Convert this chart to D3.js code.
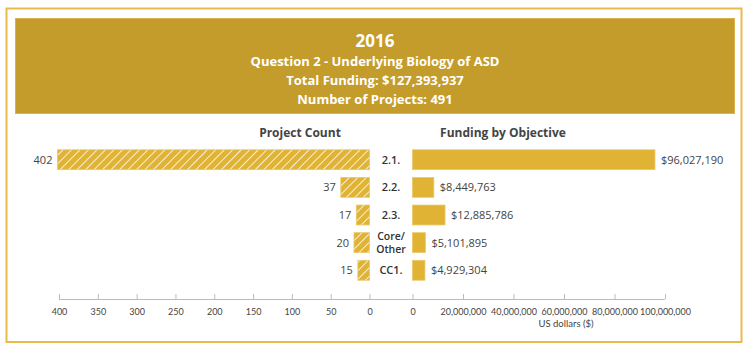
<!DOCTYPE html>
<html>
<head>
<meta charset="utf-8">
<script src="https://cdn.jsdelivr.net/npm/d3@7"></script>
<style>
  body { margin: 0; background: #fff; }
  svg { display: block; font-family: "Open Sans", "Noto Sans", sans-serif; }
</style>
</head>
<body>
<svg width="750" height="351"></svg>
<script>
const categories = ["2.1.", "2.2.", "2.3.", "Core/\nOther", "CC1."];
const projectCounts = [402, 37, 17, 20, 15];
const funding = [96027190, 8449763, 12885786, 5101895, 4929304];
const countTicks = [400, 350, 300, 250, 200, 150, 100, 50, 0];
const fundTicks = [0, 20000000, 40000000, 60000000, 80000000, 100000000];
const titleLines = ["2016", "Question 2 - Underlying Biology of ASD", "Total Funding: $127,393,937", "Number of Projects: 491"];

const gold = "#e0b334";
const tickFont = "Lato, sans-serif";
const svg = d3.select("svg");

// outer frame
svg.append("rect")
    .attr("x", 6.5).attr("y", 8.5)
    .attr("width", 735).attr("height", 333.5)
    .attr("fill", "none")
    .attr("stroke", "#e8bb4a")
    .attr("stroke-width", 2);

// title box
svg.append("rect")
    .attr("x", 15.5).attr("y", 18.5)
    .attr("width", 719).attr("height", 95)
    .attr("fill", "#c49c2b")
    .attr("stroke", "#d8b34e")
    .attr("stroke-width", 1);

svg.selectAll(".title")
    .data(titleLines)
    .enter().append("text")
    .attr("x", 375)
    .attr("y", (d, i) => i === 0 ? 47 : 47 + i * 19)
    .attr("text-anchor", "middle")
    .attr("fill", "#fff")
    .attr("font-weight", "bold")
    .attr("font-size", (d, i) => i === 0 ? 17 : 13)
    .text(d => d);

// hatch pattern
const pat = svg.append("defs").append("pattern")
    .attr("id", "hatch")
    .attr("patternUnits", "userSpaceOnUse")
    .attr("width", 6).attr("height", 6)
    .attr("patternTransform", "rotate(45)");
pat.append("rect").attr("width", 6).attr("height", 6).attr("fill", gold);
pat.append("line")
    .attr("x1", 0).attr("y1", 0).attr("x2", 0).attr("y2", 6)
    .attr("stroke", "#fff").attr("stroke-width", 1.6);

const y = d3.scaleBand()
    .domain(categories)
    .range([147, 283])
    .paddingInner(0.28)
    .paddingOuter(0.1);

const xL = d3.scaleLinear().domain([0, 400]).range([369.5, 59]);
const xR = d3.scaleLinear().domain([0, 100000000]).range([412.5, 665]);

const axisY = 299;

// section titles
svg.append("text")
    .attr("x", 300).attr("y", 137)
    .attr("text-anchor", "middle")
    .attr("font-size", 12).attr("font-weight", "bold")
    .attr("fill", "#444")
    .text("Project Count");
svg.append("text")
    .attr("x", 503).attr("y", 137)
    .attr("text-anchor", "middle")
    .attr("font-size", 12).attr("font-weight", "bold")
    .attr("fill", "#444")
    .text("Funding by Objective");

const rows = categories.map((c, i) => ({ cat: c, count: projectCounts[i], fund: funding[i] }));

// left bars
svg.append("g").selectAll("rect")
    .data(rows)
    .enter().append("rect")
    .attr("x", d => xL(d.count))
    .attr("y", d => y(d.cat))
    .attr("width", d => xL(0) - xL(d.count))
    .attr("height", y.bandwidth())
    .attr("fill", "url(#hatch)")
    .attr("stroke", "#ecc96a")
    .attr("stroke-width", 0.8);

svg.append("g").selectAll("text")
    .data(rows)
    .enter().append("text")
    .attr("x", d => xL(d.count) - 5)
    .attr("y", d => y(d.cat) + y.bandwidth() / 2 + 4)
    .attr("text-anchor", "end")
    .attr("font-size", 11)
    .attr("fill", "#444")
    .text(d => d.count);

// right bars
svg.append("g").selectAll("rect")
    .data(rows)
    .enter().append("rect")
    .attr("x", xR(0))
    .attr("y", d => y(d.cat))
    .attr("width", d => xR(d.fund) - xR(0))
    .attr("height", y.bandwidth())
    .attr("fill", gold)
    .attr("stroke", "#ecc96a")
    .attr("stroke-width", 0.8);

svg.append("g").selectAll("text")
    .data(rows)
    .enter().append("text")
    .attr("x", d => xR(d.fund) + 6)
    .attr("y", d => y(d.cat) + y.bandwidth() / 2 + 4)
    .attr("font-size", 11)
    .attr("fill", "#444")
    .text(d => "$" + d3.format(",")(d.fund));

// category labels, one text per line
const catLines = [];
rows.forEach(d => {
    const parts = d.cat.split("\n");
    parts.forEach((p, i) => catLines.push({ cat: d.cat, text: p, i: i, n: parts.length }));
});
svg.append("g").selectAll("text")
    .data(catLines)
    .enter().append("text")
    .attr("x", 391)
    .attr("y", d => y(d.cat) + y.bandwidth() / 2 + 4 + (d.n > 1 ? -6.5 + d.i * 13 : 0))
    .attr("text-anchor", "middle")
    .attr("font-size", d => d.n > 1 ? 10.5 : 11)
    .attr("font-weight", 600)
    .attr("fill", "#333")
    .text(d => d.text);

// axes
const gL = svg.append("g")
    .attr("transform", `translate(0,${axisY})`)
    .call(d3.axisTop(xL).tickValues(countTicks).tickSize(5).tickFormat(d3.format("d")));
const gR = svg.append("g")
    .attr("transform", `translate(0,${axisY})`)
    .call(d3.axisTop(xR).tickValues(fundTicks).tickSize(5).tickFormat(d3.format(",")));

[gL, gR].forEach(g => {
    g.select(".domain").remove();
    g.selectAll(".tick line").attr("stroke", "#bbb");
    g.selectAll(".tick text")
        .attr("y", 16)
        .attr("dy", 0)
        .attr("fill", "#444")
        .attr("font-size", 9)
        .attr("font-family", tickFont);
});

svg.append("line")
    .attr("x1", xL(400)).attr("x2", xR(100000000))
    .attr("y1", axisY + 0.5).attr("y2", axisY + 0.5)
    .attr("stroke", "#bbb");

svg.append("text")
    .attr("x", 566).attr("y", 327)
    .attr("text-anchor", "middle")
    .attr("font-size", 9.5)
    .attr("font-family", tickFont)
    .attr("fill", "#444")
    .text("US dollars ($)");
</script>
</body>
</html>
